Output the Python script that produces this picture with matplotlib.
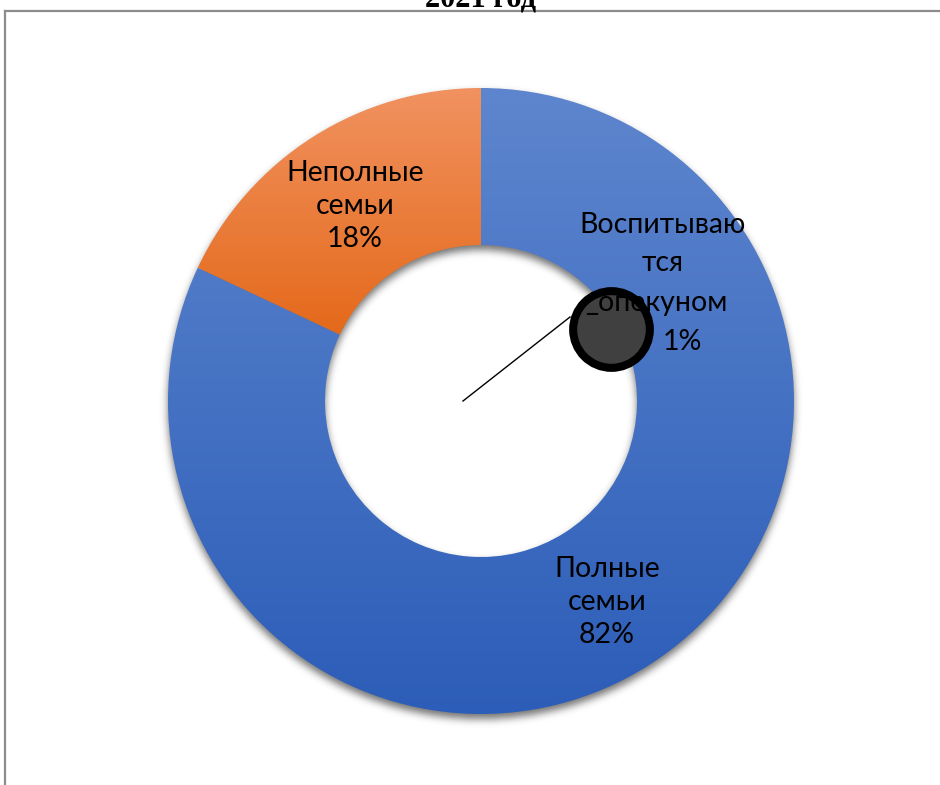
import numpy as np
import matplotlib
matplotlib.use("Agg")
import matplotlib.pyplot as plt
from matplotlib.colors import LinearSegmentedColormap
from matplotlib.lines import Line2D

# ---- data ----
title = "2021 год"
categories = ["Полные семьи", "Неполные семьи"]
values = [82, 18]
pct_labels = ["82%", "18%"]
extra_lines = ["Воспитываю", "тся", "_опекуном", "1%"]

W, H = 940, 785
fig = plt.figure(figsize=(W / 100, H / 100), dpi=100)
ax = fig.add_axes([0, 0, 1, 1])
ax.set_xlim(0, W)
ax.set_ylim(0, H)
ax.set_aspect("equal")
ax.axis("off")

cx, cy = 481, H - 401
R = 313
ring_w = 157
r_in = R - ring_w

# ---- soft shadow ----
yy, xx = np.mgrid[0:H, 0:W]
ys = (H - 1 - yy) + 0.5
xs = xx + 0.5
d = np.hypot(xs - cx, ys - (cy - 5))
mask = ((d <= R) & (d >= r_in)).astype(float)

def blur(a, s):
    k = np.arange(-3 * s, 3 * s + 1)
    g = np.exp(-k ** 2 / (2 * s * s)); g /= g.sum()
    a = np.apply_along_axis(lambda m: np.convolve(m, g, mode="same"), 0, a)
    a = np.apply_along_axis(lambda m: np.convolve(m, g, mode="same"), 1, a)
    return a

sh = blur(mask, 4)
rgba = np.zeros((H, W, 4))
rgba[..., 3] = sh * 0.55
ax.imshow(rgba, extent=(0, W, 0, H), origin="upper", zorder=1, interpolation="bilinear")

# ---- donut ----
wedges, _ = ax.pie(values, radius=R, center=(cx, cy), startangle=90, counterclock=False,
                   wedgeprops=dict(width=ring_w, linewidth=0), frame=True)
ax.set_xlim(0, W)
ax.set_ylim(0, H)
ax.axis("off")

grads = [("#5E86CE", "#2C5DB8"), ("#F19260", "#E4691A")]
for w, (ctop, cbot) in zip(wedges, grads):
    w.set_facecolor("none")
    w.set_zorder(2)
    bb = w.get_path().get_extents(w.get_transform() - ax.transData)
    cmap = LinearSegmentedColormap.from_list("g", [cbot, ctop])
    grad = np.linspace(0, 1, 256).reshape(-1, 1)
    im = ax.imshow(grad, cmap=cmap, extent=(bb.x0, bb.x1, bb.y0, bb.y1), origin="lower",
                   aspect="auto", zorder=3, interpolation="bilinear")
    im.set_clip_path(w)
ax.set_xlim(0, W)
ax.set_ylim(0, H)

lab_font = dict(family=["Lato", "DejaVu Sans"], fontsize=20.5, color="black",
                ha="center", va="center", linespacing=1.32, zorder=6)

# labels
ax.text(607, H - 602, "Полные\nсемьи\n" + pct_labels[0], **lab_font)
ax.text(355, H - 206, "Неполные\nсемьи\n" + pct_labels[1], **lab_font)

# leader line and odd marker for the tiny category
ax.add_line(Line2D([463, 570], [H - 401, H - 317], color="black", lw=1.0, zorder=5))
ax.scatter([611], [H - 329], s=3050, facecolor="#404040", edgecolor="black",
           linewidths=5.8, zorder=5)
extra_x = [663, 663, 656, 682]
extra_y = [225, 263, 303, 342]
for t, x, y in zip(extra_lines, extra_x, extra_y):
    ax.text(x, H - y, t, **lab_font)

# frame lines
ax.add_line(Line2D([5, W], [H - 11, H - 11], color="#8c8c8c", lw=1.6, zorder=7))
ax.add_line(Line2D([5, 5], [H - 11, 0], color="#8c8c8c", lw=1.6, zorder=7))

# title (cropped at top)
ax.text(481, H - 7, title, family="Liberation Serif", fontweight="bold", fontsize=22,
        ha="center", va="baseline", zorder=8, clip_on=False)

fig.savefig("out.png", dpi=100)
